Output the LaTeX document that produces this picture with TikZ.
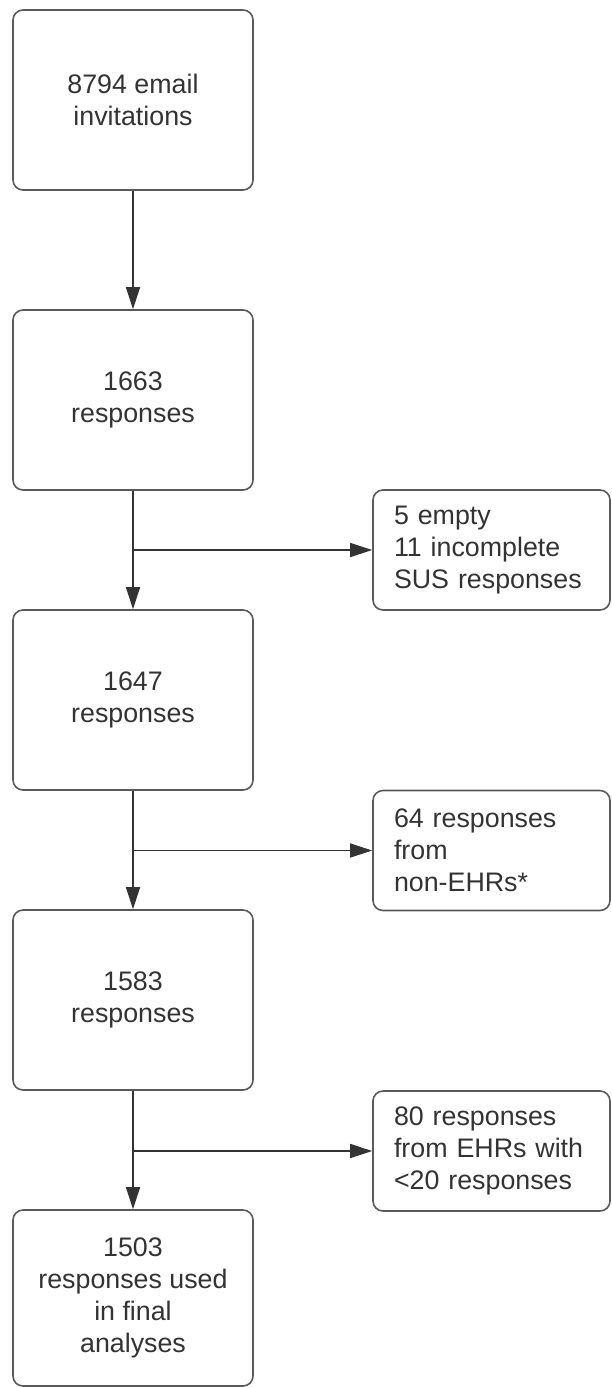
\documentclass[tikz,border=0pt]{standalone}
\usepackage{fontspec}
\setmainfont{Liberation Sans}
\usetikzlibrary{arrows.meta}
\definecolor{boxline}{HTML}{5A5A5A}
\definecolor{ink}{HTML}{333333}
\tikzset{
	stage/.style={draw=boxline, line width=0.8pt, rounded corners=5pt, minimum width=120pt,
		minimum height=90pt, align=center, text=ink, font=\fontsize{13.4}{16}\selectfont},
	excl/.style={draw=boxline, line width=0.8pt, rounded corners=5pt, text width=97.5pt,
		inner xsep=10.5pt, minimum height=60pt, align=left, text=ink, font=\fontsize{13.4}{16}\selectfont},
	flow/.style={draw=ink, line width=0.75pt, -{Triangle[length=11pt, width=7pt]}}
}
\begin{document}
\begin{tikzpicture}[x=0.5pt, y=-0.5pt]
	\useasboundingbox (0,0) rectangle (611,1388);
	\node[stage] (invites) at (133,100) {8794 email\\invitations};
	\node[stage] (resp1663) at (133,400) {1663\\responses};
	\node[stage] (resp1647) at (133,700) {1647\\responses};
	\node[stage] (resp1583) at (133,1000) {1583\\responses};
	\node[stage, minimum height=88pt] (final) at (133,1298) {1503\\responses used\\in final\\analyses};
	\node[excl] (empty) at (491.5,550) {5 empty\\11 incomplete\\SUS responses};
	\node[excl] (nonehr) at (491.5,850.5) {64 responses\\from\\non-EHRs*};
	\node[excl] (small) at (491.5,1151) {80 responses\\from EHRs with\\<20 responses};
	\draw[flow] (invites) -- (resp1663);
	\draw[flow] (resp1663) -- (resp1647);
	\draw[flow] (resp1647) -- (resp1583);
	\draw[flow] (resp1583) -- (final);
	\coordinate (split1) at (resp1663.south |- empty.west);
	\coordinate (split2) at (resp1647.south |- nonehr.west);
	\coordinate (split3) at (resp1583.south |- small.west);
	\draw[flow] (split1) -- (empty);
	\draw[flow] (split2) -- (nonehr);
	\draw[flow] (split3) -- (small);
\end{tikzpicture}
\end{document}
